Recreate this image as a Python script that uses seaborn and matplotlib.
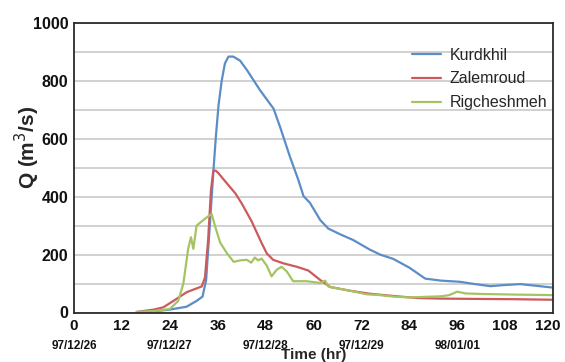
import numpy as np
import pandas as pd
import matplotlib
matplotlib.use("Agg")
import matplotlib.pyplot as plt
import matplotlib.transforms as mtransforms
from matplotlib.ticker import MultipleLocator
import seaborn as sns

# ---------------- data ----------------
kurdkhil_hr = [16, 20, 24, 28.2, 30.7, 32.2, 33.1, 33.9, 34.5, 34.9, 35.5, 36.2, 37, 37.8,
               38.7, 39.9, 41.6, 43.3, 46.6, 50, 51.6, 54.1, 56.2, 57.5, 59.1, 61.7, 63.7,
               66.7, 70, 74, 76.7, 80, 84, 88, 92, 96.7, 100, 104.3, 108, 111.8, 116, 120]
kurdkhil_q = [0, 4, 10, 20, 40, 55, 112, 275, 400, 484, 600, 715, 800, 860,
              884, 884, 870, 838, 768, 704, 642, 538, 458, 402, 379, 319, 290,
              270, 250, 218, 200, 185, 155, 117, 110, 106, 99, 91, 95, 98, 92, 86]

zalemroud_hr = [15.7, 20, 22.4, 24.9, 28.2, 32, 32.8, 33.6, 34.3, 34.9, 35.5, 36.2, 38.3,
                40.4, 42, 44.5, 47, 48.3, 49.9, 52.4, 55.8, 58.7, 61.7, 64.2, 69.2, 74,
                80, 86, 92, 100, 110, 120]
zalemroud_q = [2, 10, 18, 40, 70, 90, 120, 250, 420, 490, 490, 481, 446,
               412, 377, 315, 240, 204, 182, 170, 158, 145, 112, 88, 75, 65,
               57, 50, 48, 47, 46, 44]

rig_hr = [15.7, 20, 24, 26.1, 27.4, 28.6, 29.3, 29.9, 30.7, 32, 33.4, 34.5, 35.3, 36.6,
          38.3, 40, 41.6, 43.3, 44.4, 45.3, 46.1, 47, 48.3, 49.5, 50.8, 52, 53.3, 54.9,
          58.3, 61.7, 62.9, 63.7, 65, 69.2, 73.3, 76.7, 80, 84, 88, 92, 94, 96, 98,
          102, 110, 120]
rig_q = [2, 5, 12, 40, 100, 220, 260, 220, 300, 315, 330, 340, 300, 242,
         205, 175, 180, 182, 172, 190, 180, 186, 162, 125, 148, 158, 142, 108,
         108, 102, 110, 90, 86, 75, 63, 60, 55, 52, 54, 56, 60, 72, 66,
         64, 62, 60]

stations = ["Kurdkhil", "Zalemroud", "Rigcheshmeh"]
colors = ["#5b8dc6", "#cc5a5c", "#a4c462"]

x_ticks = [0, 12, 24, 36, 48, 60, 72, 84, 96, 108, 120]
y_ticks = [0, 200, 400, 600, 800, 1000]
date_pos = [0, 24, 48, 72, 96]
date_labels = ["97/12/26", "97/12/27", "97/12/28", "97/12/29", "98/01/01"]

df = pd.concat([
    pd.DataFrame({"hr": kurdkhil_hr, "Q": kurdkhil_q, "station": stations[0]}),
    pd.DataFrame({"hr": zalemroud_hr, "Q": zalemroud_q, "station": stations[1]}),
    pd.DataFrame({"hr": rig_hr, "Q": rig_q, "station": stations[2]}),
], ignore_index=True)

# ---------------- style ----------------
sns.set_style("white")
plt.rcParams["font.family"] = ["Liberation Sans", "DejaVu Sans"]

fig = plt.figure(figsize=(5.65, 3.62), dpi=100)
ax = fig.add_axes([74 / 565, (362 - 312.5) / 362, 479 / 565, 289.5 / 362])

# grid lines every 100
ax.yaxis.set_minor_locator(MultipleLocator(100))
ax.grid(True, axis="y", which="both", color="#c9c9c9", lw=1.2)
ax.grid(False, axis="x", which="both")
ax.set_axisbelow(True)

sns.lineplot(data=df, x="hr", y="Q", hue="station", hue_order=stations,
             palette=dict(zip(stations, colors)), sort=False, estimator=None,
             lw=1.6, ax=ax)

ax.set_xlim(0, 120)
ax.set_ylim(0, 1000)
ax.set_xticks(x_ticks)
ax.set_yticks(y_ticks)
ax.xaxis.set_minor_locator(MultipleLocator(1))

ax.tick_params(axis="x", which="major", labelsize=11, length=0, pad=5, colors="#111111")
ax.tick_params(axis="x", which="minor", direction="in", length=3, width=0.6, color="#9a9a9a")
ax.tick_params(axis="y", which="major", labelsize=11.5, length=3, pad=1, colors="#111111")
ax.tick_params(axis="y", which="minor", length=0)

for s in ax.spines.values():
    s.set_visible(True)
    s.set_color("#2b2b2b")
    s.set_linewidth(1.3)

# date labels under the hour ticks
for xp, dl in zip(date_pos, date_labels):
    ax.annotate(dl, xy=(xp, 0), xycoords=("data", "axes fraction"),
                xytext=(0, -19.5), textcoords="offset points",
                ha="center", va="top", fontsize=8.5, fontweight="bold", color="#111111")

ax.set_xlabel("Time (hr)", fontsize=11, fontweight="bold")
ax.xaxis.set_label_coords(0.5, -0.122)
ax.set_ylabel("Q (m$^3$/s)", fontsize=15, fontweight="bold")
ax.yaxis.set_label_coords(-0.066, 0.57)

leg = ax.legend(loc="upper left", bbox_to_anchor=(0.706, 0.915), frameon=False,
                fontsize=11.5, handlelength=1.8, handletextpad=0.55,
                labelspacing=0.55, borderpad=0, borderaxespad=0)
for h in leg.get_lines():
    h.set_linewidth(1.6)

# bold tick labels; nudge the last hour label so it stays inside the picture
for t in ax.xaxis.get_major_ticks() + ax.yaxis.get_major_ticks():
    t.label1.set_fontweight("bold")
last = ax.xaxis.get_major_ticks()[-1].label1
last.set_transform(last.get_transform() +
                   mtransforms.ScaledTranslation(-5 / 100, 0, fig.dpi_scale_trans))

fig.savefig("out.png", dpi=100, facecolor="white")
